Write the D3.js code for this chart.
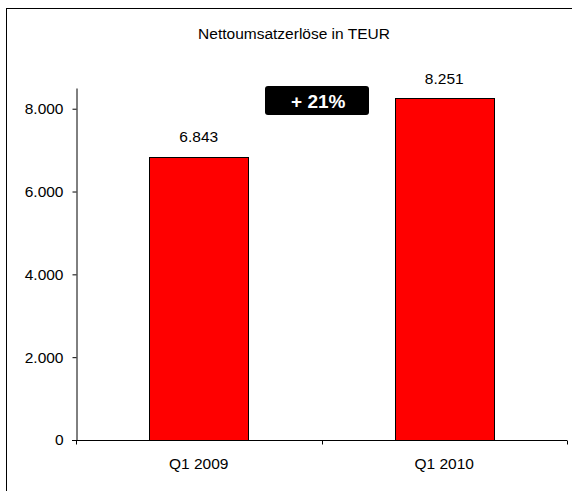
<!DOCTYPE html>
<html><head><meta charset="utf-8">
<script src="https://cdn.jsdelivr.net/npm/d3@7"></script>
<style>body{margin:0;background:#fff}svg{display:block;font-family:"Liberation Sans",Arial,sans-serif}</style>
</head><body><div id="c"></div>
<script>
const categories = ["Q1 2009", "Q1 2010"];
const values = [6843, 8251];
const valueLabels = ["6.843", "8.251"];
const yTicks = [0, 2000, 4000, 6000, 8000];
const yTickLabels = ["0", "2.000", "4.000", "6.000", "8.000"];
const title = "Nettoumsatzerlöse in TEUR";
const badge = "+ 21%";

const W = 572, H = 491;
const FS = 15.5;
const svg = d3.select("#c").append("svg").attr("width", W).attr("height", H);
svg.append("rect").attr("x", 6.5).attr("y", 8.5).attr("width", 600).attr("height", 600)
  .attr("fill", "#fff").attr("stroke", "#000").attr("stroke-width", 1);

const m = {l: 76, r: 567, t: 88, b: 440};
const y = d3.scaleLinear().domain([0, 8500]).range([m.b, m.t]);
const x = d3.scaleBand().domain(categories).range([m.l, m.r]).paddingInner(0.597).paddingOuter(0.2985);
const xb = d3.scaleBand().domain(categories).range([m.l, m.r]);

svg.append("text").attr("x", 294).attr("y", 38.5).attr("text-anchor", "middle")
  .attr("font-size", FS).text(title);

// y axis
const yAx = svg.append("g").attr("transform", `translate(${m.l + 0.5},0)`)
  .call(d3.axisLeft(y).tickValues(yTicks).tickFormat((d, i) => yTickLabels[i]).tickSize(4).tickPadding(9).tickSizeOuter(0));
yAx.select(".domain").attr("stroke", "#000");
yAx.selectAll("text").attr("font-size", FS).attr("fill", "#000").attr("font-family", "Liberation Sans, Arial, sans-serif");

// bars
svg.selectAll("rect.bar").data(values).join("rect").attr("class", "bar")
  .attr("x", (d, i) => Math.round(x(categories[i])) + 0.5)
  .attr("y", d => Math.round(y(d)) + 0.5)
  .attr("width", Math.round(x.bandwidth()))
  .attr("height", d => Math.round(y(0)) - Math.round(y(d)))
  .attr("fill", "#ff0000").attr("stroke", "#000").attr("stroke-width", 1);

// x axis
const xAx = svg.append("g").attr("transform", `translate(0,${m.b + 0.5})`);
xAx.append("line").attr("x1", m.l - 4).attr("x2", m.r).attr("stroke", "#000");
const boundaries = [m.l, ...categories.map(c => xb(c) + xb.bandwidth())];
xAx.selectAll("line.t").data(boundaries).join("line").attr("class", "t")
  .attr("x1", d => Math.round(d) + 0.5).attr("x2", d => Math.round(d) + 0.5).attr("y1", 0).attr("y2", 4).attr("stroke", "#000");
xAx.selectAll("text").data(categories).join("text")
  .attr("x", d => xb(d) + xb.bandwidth() / 2).attr("y", 28).attr("text-anchor", "middle")
  .attr("font-size", FS).text(d => d);

// value labels
svg.selectAll("text.vl").data(values).join("text").attr("class", "vl")
  .attr("x", (d, i) => x(categories[i]) + x.bandwidth() / 2)
  .attr("y", d => y(d) - 14.5).attr("text-anchor", "middle").attr("font-size", FS)
  .text((d, i) => valueLabels[i]);

// badge
const bx = 265, by = 86, bw = 104, bh = 29;
svg.append("rect").attr("x", bx).attr("y", by).attr("width", bw).attr("height", bh).attr("rx", 3).attr("fill", "#000");
svg.append("text").attr("x", 318.3).attr("y", 108.3).attr("text-anchor", "middle")
  .attr("font-size", 19).attr("font-weight", "bold").attr("fill", "#fff").text(badge);
</script></body></html>
